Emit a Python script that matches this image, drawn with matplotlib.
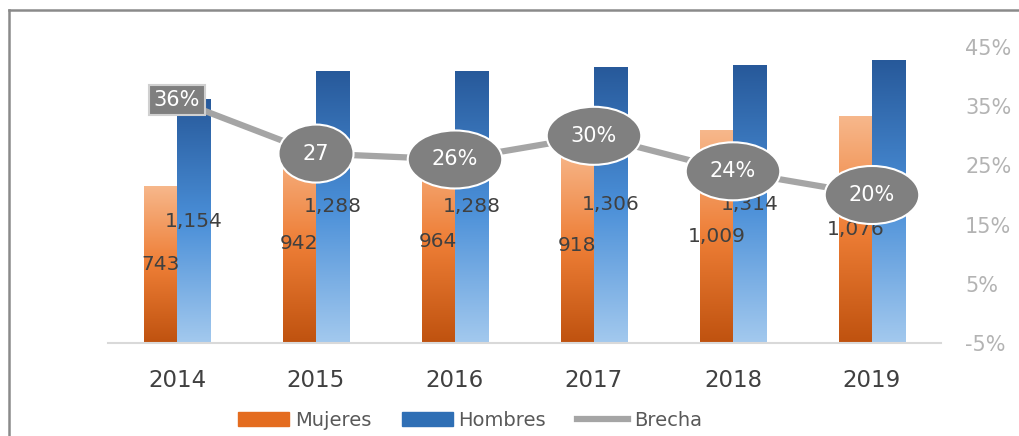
import matplotlib.pyplot as plt
import numpy as np
from matplotlib.colors import LinearSegmentedColormap
from matplotlib.patches import Ellipse, Patch
from matplotlib.lines import Line2D

anios = ['2014', '2015', '2016', '2017', '2018', '2019']
mujeres = [743, 942, 964, 918, 1009, 1076]
hombres = [1154, 1288, 1288, 1306, 1314, 1340]
brecha = [36, 27, 26, 30, 24, 20]
brecha_txt = ['36%', '27', '26%', '30%', '24%', '20%']

cm_muj = LinearSegmentedColormap.from_list('muj', ['#bf520f', '#ee7e36', '#f7b88c'])
cm_hom = LinearSegmentedColormap.from_list('hom', ['#a3c9ee', '#4a8fd8', '#27599a'])

fig = plt.figure(figsize=(10.19, 4.36), dpi=100)
ax = fig.add_axes([107.5/1019, 93/436, 834/1019, 296/436])

x = np.arange(len(anios))
w = 0.24
b_m = ax.bar(x - w/2, mujeres, w, color='none', edgecolor='none')
b_h = ax.bar(x + w/2, hombres, w, color='none', edgecolor='none')

grad = np.linspace(0, 1, 256).reshape(-1, 1)
for bars, cm in [(b_m, cm_muj), (b_h, cm_hom)]:
    for b in bars:
        x0 = b.get_x()
        h = b.get_height()
        im = ax.imshow(grad, cmap=cm, origin='lower', aspect='auto',
                       extent=[x0, x0 + b.get_width(), 0, h], zorder=2)
        im.set_clip_path(b)
        ax.text(x0 + b.get_width()/2, h/2, f"{h:,}", ha='center', va='center',
                color='#404040', fontsize=14.5, zorder=3)

ax.set_xlim(-0.5, 5.5)
ax.set_ylim(0, 1400)
ax.set_yticks([])
for s in ['top', 'left', 'right']:
    ax.spines[s].set_visible(False)
ax.spines['bottom'].set_color('#d9d9d9')
ax.spines['bottom'].set_linewidth(1.5)
ax.set_xticks(x)
ax.set_xticklabels(anios, fontsize=16.5, color='#404040')
ax.tick_params(axis='x', length=0, pad=19)

ax2 = ax.twinx()
ax2.set_ylim(-5, 45)
ax2.set_yticks(range(-5, 50, 10))
ax2.set_yticklabels([f"{t}%" for t in range(-5, 50, 10)], fontsize=15, color='#b3b3b3')
ax2.tick_params(axis='y', length=0, pad=17)
for s in ax2.spines.values():
    s.set_visible(False)

ax2.plot(x, brecha, color='#a5a5a5', lw=4.5, solid_capstyle='round', zorder=3)
for i, (v, t) in enumerate(zip(brecha, brecha_txt)):
    if i == 0:
        ax2.text(x[i], v, t, ha='center', va='center', color='white', fontsize=15,
                 zorder=5, bbox=dict(boxstyle='square,pad=0.25', fc='#7f7f7f', ec='#d0d0d0', lw=1.5))
    else:
        ew = 0.54 if len(t) == 2 else 0.68
        ax2.add_patch(Ellipse((x[i], v), ew, 9.8, fc='#808080', ec='white', lw=1.5, zorder=4))
        ax2.text(x[i], v, t, ha='center', va='center', color='white', fontsize=15, zorder=5)

handles = [Patch(color='#e46c1f'), Patch(color='#2f6fb5'), Line2D([], [], color='#a5a5a5', lw=4.5)]
fig.legend(handles, ['Mujeres', 'Hombres', 'Brecha'], loc='center',
           bbox_to_anchor=(470/1019, 1 - 420/436), ncol=3, frameon=False, fontsize=14,
           handlelength=2.6, handleheight=0.7, handletextpad=0.3, columnspacing=1.6,
           labelcolor='#595959')

# marco gris
fig.add_artist(Line2D([9/1019, 9/1019], [0, 1 - 10/436], transform=fig.transFigure, color='#8a8a8a', lw=1.8))
fig.add_artist(Line2D([9/1019, 1], [1 - 10/436, 1 - 10/436], transform=fig.transFigure, color='#8a8a8a', lw=1.8))

fig.savefig('out.png', dpi=100)
